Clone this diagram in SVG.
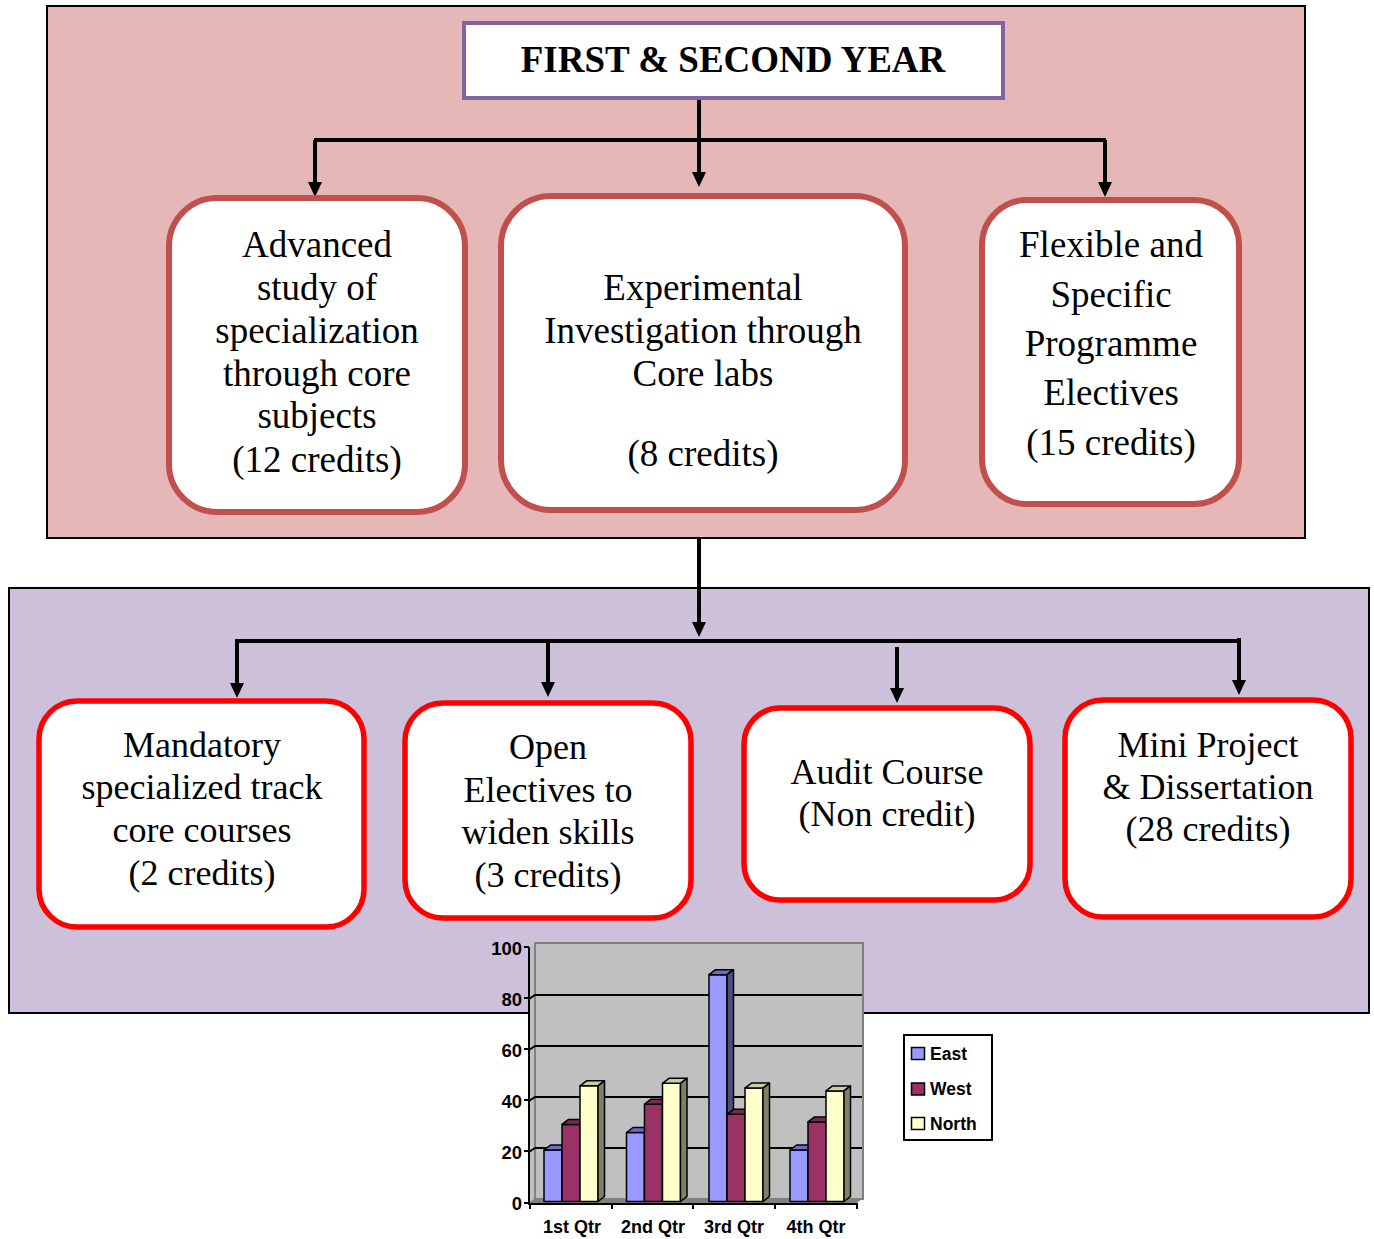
<svg xmlns="http://www.w3.org/2000/svg" width="1374" height="1239" viewBox="0 0 1374 1239">
<style>
.t{font-family:"Liberation Serif","Times New Roman",serif;font-size:37px;fill:#000;text-anchor:middle}
.tb{font-size:36px}
.title{font-family:"Liberation Serif","Times New Roman",serif;font-size:37px;font-weight:bold;text-anchor:middle}
.n1{fill:#fff;stroke:#c0504d;stroke-width:6}
.n2{fill:#fff;stroke:#ff0000;stroke-width:5.5}
.c{stroke:#000;stroke-width:4;fill:none}
.ax{font-family:"Liberation Sans",Arial,sans-serif;font-weight:bold;fill:#000}
.bar{stroke:#000;stroke-width:1.5;stroke-linejoin:round}
</style>
<defs>
<marker id="ah" markerUnits="userSpaceOnUse" markerWidth="14" markerHeight="16" refX="7" refY="14" orient="auto-start-reverse" viewBox="0 0 14 16">
<path d="M0,0 L14,0 L7,14 Z" fill="#000"/>
</marker>
</defs>
<rect width="1374" height="1239" fill="#fff"/>
<rect id="panel-top" x="47" y="6" width="1258" height="532" fill="#e5b8b7" stroke="#000" stroke-width="2"/>
<rect id="panel-bottom" x="9" y="588" width="1360" height="425" fill="#ccc0da" stroke="#000" stroke-width="2"/>

<g id="connectors">
<path class="c" d="M699,98 V174"/>
<path d="M692,172 L706,172 L699,187 Z"/>
<path class="c" d="M314,140 H1106"/>
<path class="c" d="M315,140 V184"/>
<path d="M308,182 L322,182 L315,197 Z"/>
<path class="c" d="M1105,140 V184"/>
<path d="M1098,182 L1112,182 L1105,197 Z"/>
<path class="c" d="M699,538 V624"/>
<path d="M692,622 L706,622 L699,637 Z"/>
<path class="c" d="M235,641 H1241"/>
<path class="c" d="M237,641 V685"/>
<path d="M230,683 L244,683 L237,698 Z"/>
<path class="c" d="M548,641 V684"/>
<path d="M541,682 L555,682 L548,697 Z"/>
<path class="c" d="M897,647 V690"/>
<path d="M890,688 L904,688 L897,703 Z"/>
<path class="c" d="M1239,638 V682"/>
<path d="M1232,680 L1246,680 L1239,695 Z"/>
</g>

<g id="title">
<rect x="464" y="23" width="539" height="75" fill="#fff" stroke="#8064a2" stroke-width="4"/>
<text class="title" x="733" y="72">FIRST &amp; SECOND YEAR</text>
</g>

<g id="node-advanced">
<rect class="n1" x="169" y="198" width="296" height="314" rx="48"/>
<text class="t" x="317" y="257">Advanced</text>
<text class="t" x="317" y="300">study of</text>
<text class="t" x="317" y="343">specialization</text>
<text class="t" x="317" y="386">through core</text>
<text class="t" x="317" y="428">subjects</text>
<text class="t" x="317" y="472">(12 credits)</text>
</g>

<g id="node-experimental">
<rect class="n1" x="501" y="196" width="404" height="314" rx="50"/>
<text class="t" x="703" y="300">Experimental</text>
<text class="t" x="703" y="343">Investigation through</text>
<text class="t" x="703" y="386">Core labs</text>
<text class="t" x="703" y="466">(8 credits)</text>
</g>

<g id="node-flexible">
<rect class="n1" x="982" y="200" width="257" height="304" rx="45"/>
<text class="t" x="1111" y="257">Flexible and</text>
<text class="t" x="1111" y="307">Specific</text>
<text class="t" x="1111" y="356">Programme</text>
<text class="t" x="1111" y="405">Electives</text>
<text class="t" x="1111" y="455">(15 credits)</text>
</g>

<g id="node-mandatory">
<rect class="n2" x="39" y="701" width="325" height="226" rx="38"/>
<text class="t tb" x="202" y="757">Mandatory</text>
<text class="t tb" x="202" y="799">specialized track</text>
<text class="t tb" x="202" y="842">core courses</text>
<text class="t tb" x="202" y="885">(2 credits)</text>
</g>

<g id="node-open">
<rect class="n2" x="405" y="703" width="286" height="215" rx="38"/>
<text class="t tb" x="548" y="759">Open</text>
<text class="t tb" x="548" y="802">Electives to</text>
<text class="t tb" x="548" y="844">widen skills</text>
<text class="t tb" x="548" y="887">(3 credits)</text>
</g>

<g id="node-audit">
<rect class="n2" x="744" y="708" width="286" height="192" rx="36"/>
<text class="t tb" x="887" y="784">Audit Course</text>
<text class="t tb" x="887" y="826">(Non credit)</text>
</g>

<g id="node-mini">
<rect class="n2" x="1065" y="700" width="286" height="217" rx="38"/>
<text class="t tb" x="1208" y="757">Mini Project</text>
<text class="t tb" x="1208" y="799">&amp; Dissertation</text>
<text class="t tb" x="1208" y="841">(28 credits)</text>
</g>

<g id="chart">
<polygon points="529,947 535,943 535,1199 529,1203" fill="#c0c0c0"/>
<rect x="535" y="943" width="328" height="256" fill="#c0c0c0" stroke="#808080" stroke-width="2"/>
<polygon points="529,1203 535,1198 863,1198 857,1203" fill="#808080"/>
<g stroke="#000" stroke-width="2" fill="none">
<path d="M529,999 L535,995 H862"/>
<path d="M529,1050 L535,1046 H862"/>
<path d="M529,1101 L535,1097 H862"/>
<path d="M529,1152 L535,1148 H862"/>
<path d="M529,947 V1205 M524,947 H529 M524,998 H529 M524,1049 H529 M524,1100 H529 M524,1151 H529 M524,1203 H529"/>
<path d="M529,1204 H858 M530,1204 V1209 M612,1204 V1209 M693,1204 V1209 M775,1204 V1209 M857,1204 V1209"/>
</g>
<g class="ax" font-size="18.5" text-anchor="end">
<text x="522" y="955">100</text>
<text x="522" y="1006">80</text>
<text x="522" y="1057">60</text>
<text x="522" y="1108">40</text>
<text x="522" y="1159">20</text>
<text x="522" y="1210">0</text>
</g>
<g class="ax" font-size="18" text-anchor="middle">
<text x="572" y="1233">1st Qtr</text>
<text x="653" y="1233">2nd Qtr</text>
<text x="734" y="1233">3rd Qtr</text>
<text x="816" y="1233">4th Qtr</text>
</g>
<g class="bar">
<rect x="544" y="1150" width="18" height="51.5" fill="#9999ff"/>
<polygon points="544,1150 550.5,1145 568.5,1145 562,1150" fill="#6b6bcc"/>
<polygon points="562,1150 568.5,1145 568.5,1196.5 562,1201.5" fill="#4d4d80"/>
<rect x="562" y="1124.4" width="18" height="77.1" fill="#993366"/>
<polygon points="562,1124.4 568.5,1119.4 586.5,1119.4 580,1124.4" fill="#7a2952"/>
<polygon points="580,1124.4 586.5,1119.4 586.5,1196.5 580,1201.5" fill="#4d1a33"/>
<rect x="580" y="1085.8" width="18" height="115.7" fill="#ffffcc"/>
<polygon points="580,1085.8 586.5,1080.8 604.5,1080.8 598,1085.8" fill="#cccca3"/>
<polygon points="598,1085.8 604.5,1080.8 604.5,1196.5 598,1201.5" fill="#80806a"/>
<rect x="626.5" y="1132.5" width="18" height="69" fill="#9999ff"/>
<polygon points="626.5,1132.5 633,1127.5 651,1127.5 644.5,1132.5" fill="#6b6bcc"/>
<polygon points="644.5,1132.5 651,1127.5 651,1196.5 644.5,1201.5" fill="#4d4d80"/>
<rect x="644.5" y="1104.2" width="18" height="97.3" fill="#993366"/>
<polygon points="644.5,1104.2 651,1099.2 669,1099.2 662.5,1104.2" fill="#7a2952"/>
<polygon points="662.5,1104.2 669,1099.2 669,1196.5 662.5,1201.5" fill="#4d1a33"/>
<rect x="662.5" y="1083.3" width="18" height="118.2" fill="#ffffcc"/>
<polygon points="662.5,1083.3 669,1078.3 687,1078.3 680.5,1083.3" fill="#cccca3"/>
<polygon points="680.5,1083.3 687,1078.3 687,1196.5 680.5,1201.5" fill="#80806a"/>
<rect x="709" y="974.7" width="18" height="226.8" fill="#9999ff"/>
<polygon points="709,974.7 715.5,969.7 733.5,969.7 727,974.7" fill="#6b6bcc"/>
<polygon points="727,974.7 733.5,969.7 733.5,1196.5 727,1201.5" fill="#4d4d80"/>
<rect x="727" y="1114.3" width="18" height="87.2" fill="#993366"/>
<polygon points="727,1114.3 733.5,1109.3 751.5,1109.3 745,1114.3" fill="#7a2952"/>
<polygon points="745,1114.3 751.5,1109.3 751.5,1196.5 745,1201.5" fill="#4d1a33"/>
<rect x="745" y="1088.1" width="18" height="113.4" fill="#ffffcc"/>
<polygon points="745,1088.1 751.5,1083.1 769.5,1083.1 763,1088.1" fill="#cccca3"/>
<polygon points="763,1088.1 769.5,1083.1 769.5,1196.5 763,1201.5" fill="#80806a"/>
<rect x="790" y="1150" width="18" height="51.5" fill="#9999ff"/>
<polygon points="790,1150 796.5,1145 814.5,1145 808,1150" fill="#6b6bcc"/>
<polygon points="808,1150 814.5,1145 814.5,1196.5 808,1201.5" fill="#4d4d80"/>
<rect x="808" y="1121.9" width="18" height="79.6" fill="#993366"/>
<polygon points="808,1121.9 814.5,1116.9 832.5,1116.9 826,1121.9" fill="#7a2952"/>
<polygon points="826,1121.9 832.5,1116.9 832.5,1196.5 826,1201.5" fill="#4d1a33"/>
<rect x="826" y="1090.9" width="18" height="110.6" fill="#ffffcc"/>
<polygon points="826,1090.9 832.5,1085.9 850.5,1085.9 844,1090.9" fill="#cccca3"/>
<polygon points="844,1090.9 850.5,1085.9 850.5,1196.5 844,1201.5" fill="#80806a"/>
</g>
</g>

<g id="legend">
<rect x="904" y="1035" width="88" height="105" fill="#fff" stroke="#000" stroke-width="2"/>
<rect x="911.5" y="1047.5" width="13" height="12" fill="#9999ff" stroke="#000" stroke-width="1.5"/>
<rect x="911.5" y="1083" width="13" height="12" fill="#993366" stroke="#000" stroke-width="1.5"/>
<rect x="911.5" y="1117.5" width="13" height="12" fill="#ffffcc" stroke="#000" stroke-width="1.5"/>
<g class="ax" font-size="17.5">
<text x="930" y="1060">East</text>
<text x="930" y="1095">West</text>
<text x="930" y="1130">North</text>
</g>
</g>
</svg>
